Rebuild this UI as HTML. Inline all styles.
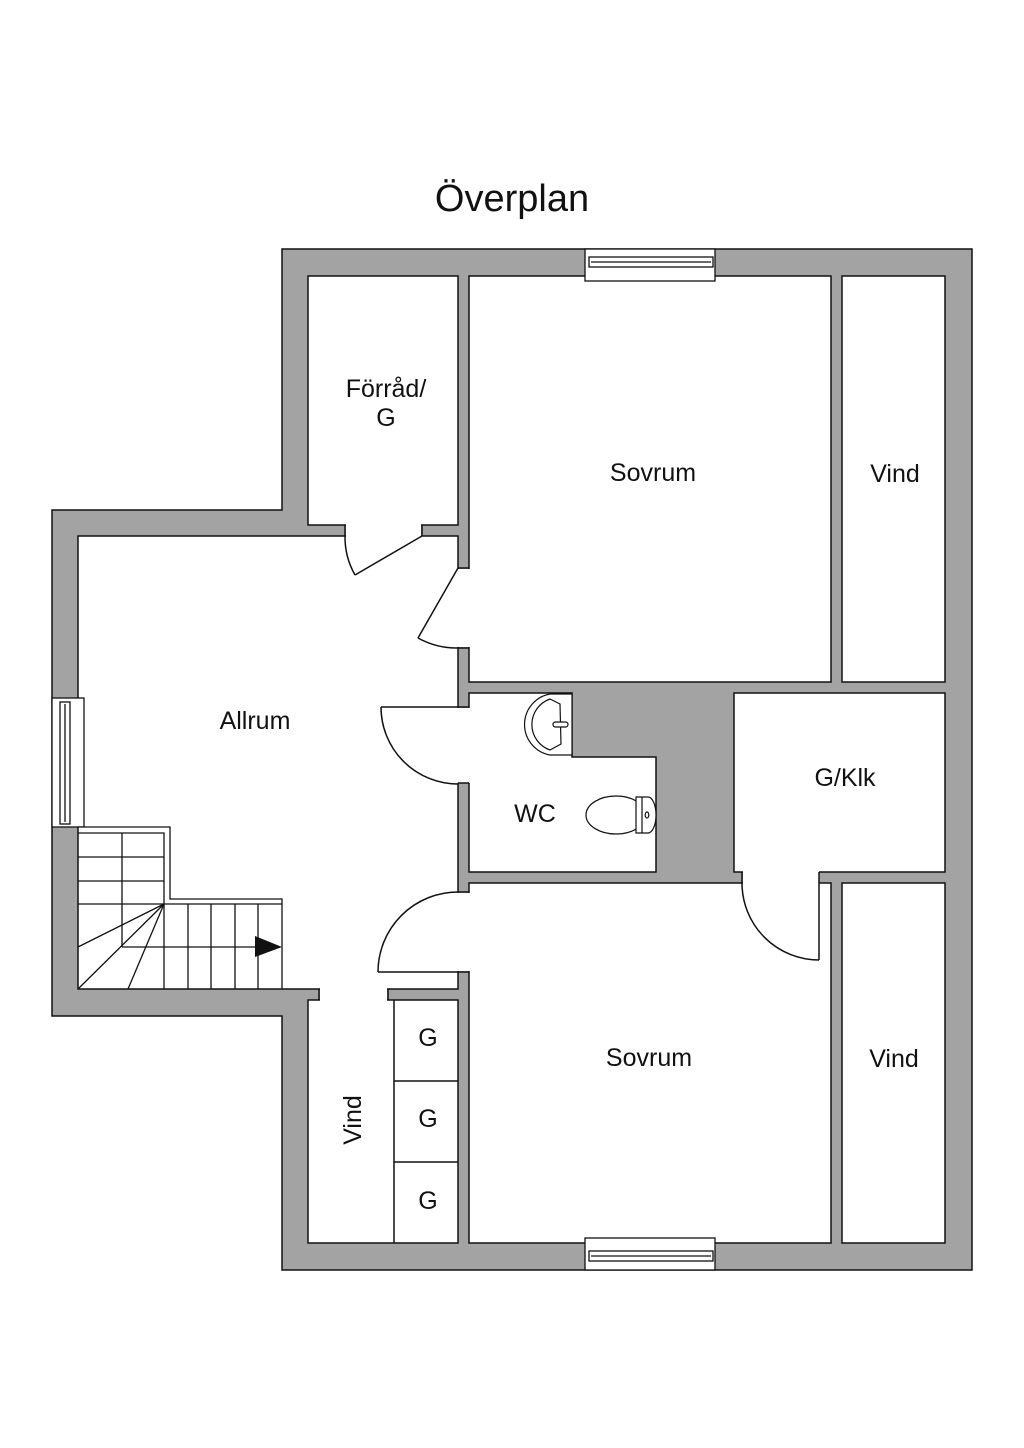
<!DOCTYPE html>
<html><head><meta charset="utf-8"><style>
html,body{margin:0;padding:0;background:#fff;}
svg{display:block;}
text{font-family:"Liberation Sans",sans-serif;fill:#111;}
</style></head><body>
<svg width="1024" height="1448" viewBox="0 0 1024 1448" xmlns="http://www.w3.org/2000/svg">
<text x="512" y="211" font-size="38" text-anchor="middle">Överplan</text>
<g stroke="#111" stroke-width="1.5" stroke-linejoin="miter">
<!-- outer walls -->
<polygon points="282,249 972,249 972,1270 282,1270 282,1016 52,1016 52,510 282,510" fill="#a3a3a3"/>
<!-- rooms -->
<rect x="308" y="276" width="150" height="249" fill="#fff"/>
<rect x="469" y="276" width="362" height="406" fill="#fff"/>
<rect x="842" y="276" width="103" height="406" fill="#fff"/>
<rect x="78" y="536" width="380" height="453" fill="#fff"/>
<rect x="308" y="1000" width="150" height="243" fill="#fff"/>
<polygon points="469,693 572,693 572,757 656,757 656,872 469,872" fill="#fff"/>
<rect x="734" y="693" width="211" height="179" fill="#fff"/>
<rect x="469" y="883" width="362" height="360" fill="#fff"/>
<rect x="842" y="883" width="103" height="360" fill="#fff"/>
</g>
<!-- openings -->
<g fill="#fff" stroke="none">
<rect x="346" y="524" width="75" height="13"/>
<rect x="457" y="569" width="13" height="78"/>
<rect x="457" y="708" width="13" height="75"/>
<rect x="457" y="893" width="13" height="78"/>
<rect x="320" y="988" width="67" height="13"/>
<rect x="743" y="871" width="76" height="13"/>
</g>
<g stroke="#111" stroke-width="1.5" fill="none">
<!-- opening edges -->
<line x1="345" y1="525" x2="345" y2="536"/><line x1="422" y1="525" x2="422" y2="536"/>
<line x1="458" y1="568" x2="469" y2="568"/><line x1="458" y1="648" x2="469" y2="648"/>
<line x1="458" y1="707" x2="469" y2="707"/><line x1="458" y1="783" x2="469" y2="783"/>
<line x1="458" y1="892" x2="469" y2="892"/><line x1="458" y1="972" x2="469" y2="972"/>
<line x1="319" y1="989" x2="319" y2="1000"/><line x1="388" y1="989" x2="388" y2="1000"/>
<line x1="742" y1="872" x2="742" y2="883"/><line x1="819" y1="872" x2="819" y2="883"/>
<!-- doors -->
<line x1="422" y1="536" x2="355" y2="575"/><path d="M345,536 A77,77 0 0 0 355,575"/>
<line x1="458" y1="568" x2="418" y2="638"/><path d="M418,638 A80,80 0 0 0 458,648"/>
<line x1="458" y1="707" x2="381" y2="707"/><path d="M381,707 A77,77 0 0 0 458,784"/>
<line x1="458" y1="972" x2="378" y2="972"/><path d="M458,892 A80,80 0 0 0 378,972"/>
<line x1="819" y1="883" x2="819" y2="960"/><path d="M742,883 A77,77 0 0 0 819,960"/>
<!-- G cabinets -->
<line x1="394" y1="1000" x2="394" y2="1243"/>
<line x1="394" y1="1081" x2="458" y2="1081"/>
<line x1="394" y1="1162" x2="458" y2="1162"/>
</g>
<!-- windows -->
<g stroke="#111" stroke-width="1.3" fill="#fff">
<rect x="585" y="249" width="130" height="32"/>
<rect x="589" y="257" width="124" height="10"/>
<line x1="591" y1="262" x2="711" y2="262"/>
<rect x="585" y="1238" width="130" height="32"/>
<rect x="589" y="1251" width="124" height="10"/>
<line x1="591" y1="1256" x2="711" y2="1256"/>
<rect x="52" y="698" width="32" height="129"/>
<rect x="60" y="702" width="10" height="122"/>
<line x1="65" y1="704" x2="65" y2="822"/>
</g>
<!-- stairs -->
<g stroke="#111" stroke-width="1.3" fill="none">
<polyline points="78,827 170,827 170,899 282,899 282,989" fill="#fff"/>
<polyline points="78,833 164,833 164,904 282,904"/>
<line x1="122" y1="833" x2="122" y2="947"/>
<line x1="78" y1="857" x2="164" y2="857"/>
<line x1="78" y1="881" x2="164" y2="881"/>
<line x1="78" y1="904" x2="164" y2="904"/>
<line x1="122" y1="947" x2="256" y2="947"/>
<line x1="164" y1="904" x2="164" y2="989"/>
<line x1="188" y1="904" x2="188" y2="989"/>
<line x1="211" y1="904" x2="211" y2="989"/>
<line x1="235" y1="904" x2="235" y2="989"/>
<line x1="258" y1="904" x2="258" y2="989"/>
<line x1="164" y1="904" x2="78" y2="947"/>
<line x1="164" y1="904" x2="78" y2="989"/>
<line x1="164" y1="904" x2="128" y2="989"/>
</g>
<polygon points="255,936 255,957 282,947" fill="#111"/>
<!-- fixtures -->
<g stroke="#111" stroke-width="1.2" fill="#fff">
<path d="M550,694 L572,694 L572,755 L550,755 A31,31 0 0 1 550,694 Z"/>
<path d="M550,699 L560,704 L561,744 L550,750 A27,27 0 0 1 550,699 Z"/>
<rect x="553" y="722" width="15" height="5" rx="2.5"/>
<ellipse cx="616" cy="815" rx="30" ry="19"/>
<path d="M636,797 L648,797 A8,18 0 0 1 648,833 L636,833 Z"/>
<line x1="642" y1="797" x2="642" y2="833"/>
<ellipse cx="647" cy="815" rx="1.8" ry="3"/>
</g>
<!-- labels -->
<g font-size="25" text-anchor="middle">
<text x="386" y="397">Förråd/</text>
<text x="386" y="426">G</text>
<text x="653" y="481">Sovrum</text>
<text x="895" y="482">Vind</text>
<text x="255" y="729">Allrum</text>
<text x="535" y="822">WC</text>
<text x="845" y="786">G/Klk</text>
<text x="649" y="1066">Sovrum</text>
<text x="894" y="1067">Vind</text>
<text x="428" y="1046">G</text>
<text x="428" y="1127">G</text>
<text x="428" y="1209">G</text>
<text x="0" y="0" transform="translate(361,1120) rotate(-90)">Vind</text>
</g>
</svg>
</body></html>
